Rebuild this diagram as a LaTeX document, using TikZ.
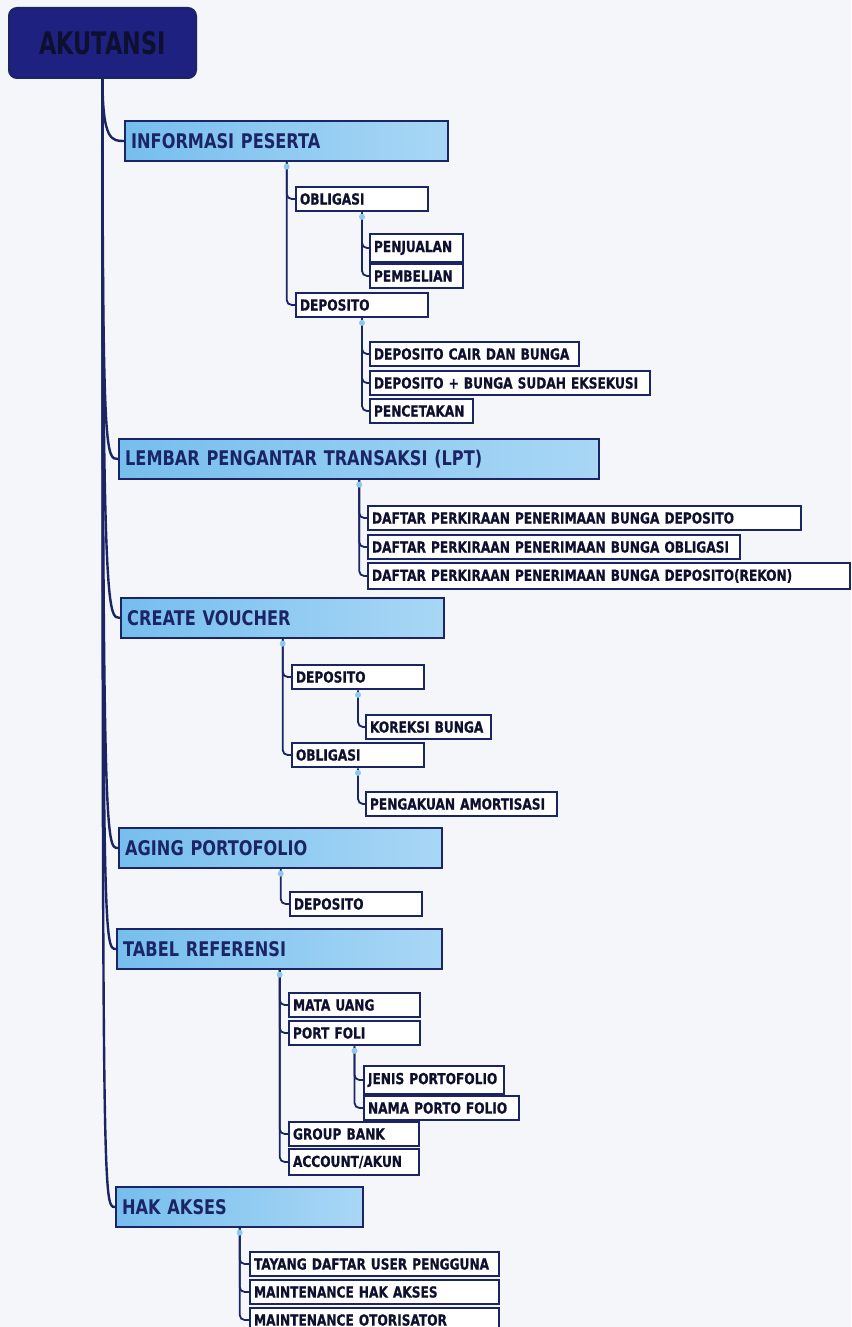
\documentclass[tikz,border=0pt]{standalone}
\usepackage{fontspec}
\usepackage{graphicx}
\newfontfamily\mapfont[FakeStretch=0.8]{DejaVu Sans}
\newfontfamily\leaffont[FakeStretch=0.8,FakeBold=0.6]{DejaVu Sans}
\definecolor{paper}{HTML}{F4F6FA}
\definecolor{navy}{HTML}{1B2566}
\definecolor{rootblue}{HTML}{1E2180}
\definecolor{rootink}{HTML}{0E1030}
\definecolor{mainL}{HTML}{76BEEE}
\definecolor{mainR}{HTML}{A9D7F5}
\definecolor{knobc}{HTML}{8CC8F0}

\begin{document}
\begin{tikzpicture}[x=0.5pt,y=-0.5pt,
  root/.style={anchor=west,draw=navy,line width=1pt,fill=rootblue,text=rootink,
    rounded corners=4pt,minimum width=93.5pt,minimum height=35pt,
    font=\mapfont\bfseries\fontsize{15.5}{17}\selectfont},
  main/.style={anchor=west,draw=navy,line width=1.2pt,left color=mainL,right color=mainR,
    text=navy,text width=#1,inner xsep=3pt,minimum height=20pt,align=left,
    font=\mapfont\bfseries\fontsize{10.1}{11}\selectfont},
  sub/.style={anchor=west,draw=navy,line width=1pt,fill=white,text=rootink,
    text width=#1,inner xsep=2pt,minimum height=12pt,align=left,
    font=\leaffont\bfseries\fontsize{7.6}{8}\selectfont},
  trunk/.style={navy,line width=1.2pt},
  branch/.style={navy,line width=0.9pt,rounded corners=2.5pt},
  knob/.style={circle,fill=knobc,inner sep=0pt,minimum size=3pt}]
\useasboundingbox (0,0) rectangle (851,1327);
\fill[paper] (0,0) rectangle (851,1327);

\node[root] (root) at (8,43) {\scalebox{0.9}[1]{AKUTANSI}};

% main branches
\node[main=155.5pt] (info) at (124,141) {INFORMASI PESERTA};
\node[main=234pt] (lpt) at (118,459) {LEMBAR PENGANTAR TRANSAKSI (LPT)};
\node[main=155.5pt] (cv) at (120,618) {CREATE VOUCHER};
\node[main=155.5pt] (aging) at (118,848) {AGING PORTOFOLIO};
\node[main=156.5pt] (tabel) at (116,949) {TABEL REFERENSI};
\node[main=117.5pt] (hak) at (115,1207) {HAK AKSES};

% informasi peserta
\node[sub=62pt] (obl1) at (295,199) {OBLIGASI};
\node[sub=42.5pt] (penj) at (369,248) {PENJUALAN};
\node[sub=42.5pt] (pemb) at (369,276) {PEMBELIAN};
\node[sub=62pt] (dep1) at (295,305) {DEPOSITO};
\node[sub=100.5pt] (cair) at (369,354) {DEPOSITO CAIR DAN BUNGA};
\node[sub=136pt] (eks) at (369,383) {DEPOSITO + BUNGA SUDAH EKSEKUSI};
\node[sub=47.5pt] (cetak) at (369,411) {PENCETAKAN};

% lpt
\node[sub=212.5pt] (dpb1) at (367,518) {DAFTAR PERKIRAAN PENERIMAAN BUNGA DEPOSITO};
\node[sub=182pt] (dpb2) at (367,547) {DAFTAR PERKIRAAN PENERIMAAN BUNGA OBLIGASI};
\node[sub=237pt] (dpb3) at (367,576) {DAFTAR PERKIRAAN PENERIMAAN BUNGA DEPOSITO(REKON)};

% create voucher
\node[sub=62pt] (dep2) at (291,677) {DEPOSITO};
\node[sub=58.5pt] (kor) at (365,727) {KOREKSI BUNGA};
\node[sub=62pt] (obl2) at (291,755) {OBLIGASI};
\node[sub=91.5pt] (amor) at (365,804) {PENGAKUAN AMORTISASI};

% aging
\node[sub=62pt] (dep3) at (289,904) {DEPOSITO};

% tabel referensi
\node[sub=61.5pt] (uang) at (288,1005) {MATA UANG};
\node[sub=61.5pt] (foli) at (288,1033) {PORT FOLI};
\node[sub=66pt] (jenis) at (363,1080) {JENIS PORTOFOLIO};
\node[sub=73.5pt] (nama) at (363,1108) {NAMA PORTO FOLIO};
\node[sub=61pt] (bank) at (288,1134) {GROUP BANK};
\node[sub=61pt] (akun) at (288,1162) {ACCOUNT/AKUN};

% hak akses
\node[sub=120.5pt] (tayang) at (249,1264) {TAYANG DAFTAR USER PENGGUNA};
\node[sub=120.5pt] (mhak) at (249,1292) {MAINTENANCE HAK AKSES};
\node[sub=120.5pt] (moto) at (249,1320) {MAINTENANCE OTORISATOR};

% connectors
\foreach \m in {info,lpt,cv,aging,tabel,hak}
  \draw[trunk] (root.south) .. controls (root.south |- \m.west) and ([xshift=-6pt]\m.west) .. (\m.west);
\foreach \p/\c in {info/obl1,info/dep1,obl1/penj,obl1/pemb,dep1/cair,dep1/eks,dep1/cetak,
    lpt/dpb1,lpt/dpb2,lpt/dpb3,cv/dep2,cv/obl2,dep2/kor,obl2/amor,aging/dep3,
    tabel/uang,tabel/foli,tabel/bank,tabel/akun,foli/jenis,foli/nama,
    hak/tayang,hak/mhak,hak/moto}
  \draw[branch] (\p.south) |- (\c.west);
\foreach \p in {info,obl1,dep1,lpt,cv,dep2,obl2,aging,tabel,foli,hak}
  \node[knob] at ([yshift=-2.2pt]\p.south) {};
\end{tikzpicture}
\end{document}
